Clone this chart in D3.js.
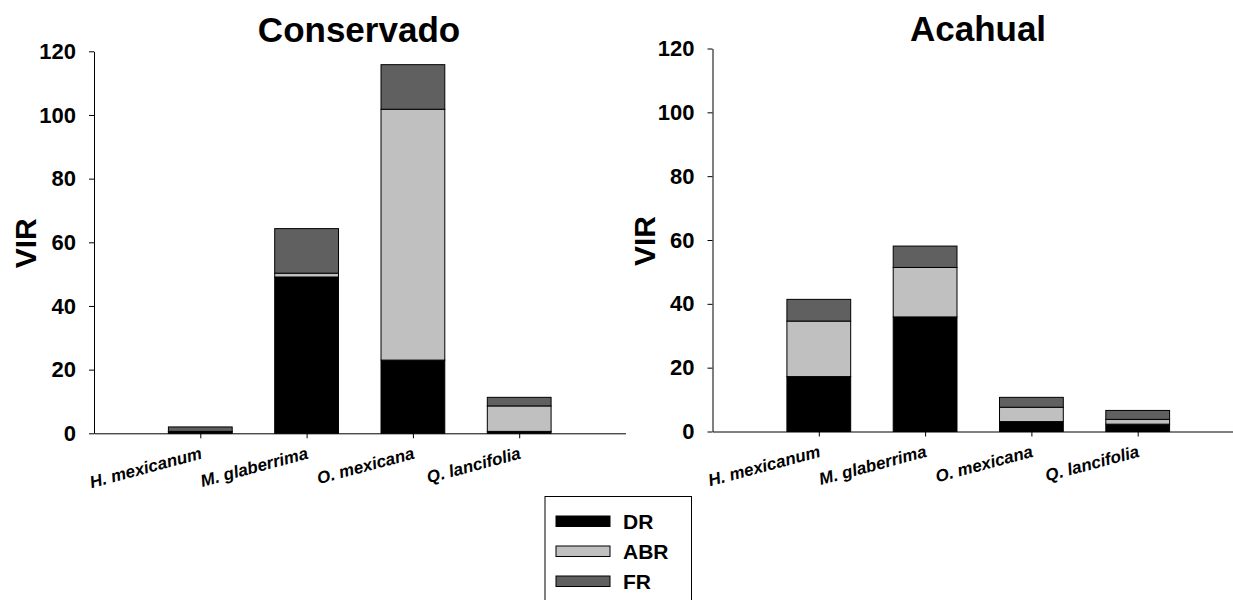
<!DOCTYPE html>
<html>
<head>
<meta charset="utf-8">
<script src="https://cdn.jsdelivr.net/npm/d3@7"></script>
<style>
  body { margin: 0; background: #fff; }
  svg { display: block; }
  text { font-family: "Liberation Sans", Arial, sans-serif; }
</style>
</head>
<body>
<svg id="chart" width="1233" height="600"></svg>
<script>
// ---- data ----
const categories = ["H. mexicanum", "M. glaberrima", "O. mexicana", "Q. lancifolia"];
const seriesNames = ["DR", "ABR", "FR"];
const seriesColors = ["#000000", "#c0c0c0", "#606060"];
const yTicks = [0, 20, 40, 60, 80, 100, 120];

const conservadoDR  = [0.4, 49.1, 23.0, 0.6];
const conservadoABR = [0.2, 1.2, 78.8, 8.0];
const conservadoFR  = [1.4, 14.0, 14.0, 2.7];

const acahualDR  = [17.2, 35.9, 3.1, 2.3];
const acahualABR = [17.4, 15.5, 4.5, 1.5];
const acahualFR  = [6.8, 6.7, 3.1, 2.8];

const panels = [
  { title: "Conservado", series: [conservadoDR, conservadoABR, conservadoFR],
    x0: 94, x1: 625.5, yTop: 51.3, yBot: 433.3, titleX: 359, titleY: 42 },
  { title: "Acahual", series: [acahualDR, acahualABR, acahualFR],
    x0: 712.5, x1: 1244, yTop: 48.5, yBot: 431.5, titleX: 978, titleY: 41 }
];

const svg = d3.select("#chart");

panels.forEach(p => {
  const g = svg.append("g");
  const x = d3.scaleLinear().domain([0, 5]).range([p.x0, p.x1]);
  const y = d3.scaleLinear().domain([0, 120]).range([p.yBot, p.yTop]);
  const barW = x(0.6) - x(0);

  // stacked data
  const rows = categories.map((c, i) => {
    const r = { cat: c, idx: i + 1 };
    seriesNames.forEach((s, k) => r[s] = p.series[k][i]);
    return r;
  });
  const stack = d3.stack().keys(seriesNames)(rows);

  stack.forEach((layer, k) => {
    g.selectAll(null).data(layer).enter().append("rect")
      .attr("x", d => x(d.data.idx) - barW / 2)
      .attr("width", barW)
      .attr("y", d => y(d[1]))
      .attr("height", d => y(d[0]) - y(d[1]))
      .attr("fill", seriesColors[k])
      .attr("stroke", "#000")
      .attr("stroke-width", 1);
  });

  // y axis
  const yAxis = d3.axisLeft(y).tickValues(yTicks).tickSize(5).tickSizeOuter(0).tickPadding(13);
  const ya = g.append("g").attr("transform", `translate(${p.x0},0)`).call(yAxis);
  ya.selectAll("text").attr("font-size", 22).attr("font-weight", "bold")
    .attr("font-family", "Liberation Sans, Arial, sans-serif").attr("fill", "#000");
  ya.selectAll("line,path").attr("stroke", "#000");

  // x axis
  const xAxis = d3.axisBottom(x).tickValues([1, 2, 3, 4]).tickSize(5).tickSizeOuter(0)
    .tickFormat(d => categories[d - 1]);
  const xa = g.append("g").attr("transform", `translate(0,${p.yBot})`).call(xAxis);
  xa.selectAll("line,path").attr("stroke", "#000");
  xa.selectAll("text")
    .attr("font-size", 17).attr("font-weight", "bold").attr("font-style", "italic")
    .attr("font-family", "Liberation Sans, Arial, sans-serif").attr("fill", "#000")
    .attr("text-anchor", "end")
    .attr("y", 0).attr("dy", 0)
    .attr("transform", "translate(2,25) rotate(-15)");

  // y label
  g.append("text")
    .attr("transform", `translate(${p.x0 - 58},${(p.yTop + p.yBot) / 2 + 1}) rotate(-90)`)
    .attr("text-anchor", "middle")
    .attr("font-size", 30).attr("font-weight", "bold")
    .text("VIR");

  // title
  g.append("text")
    .attr("x", p.titleX).attr("y", p.titleY)
    .attr("text-anchor", "middle")
    .attr("font-size", 35).attr("font-weight", "bold")
    .text(p.title);
});

// legend
const lg = svg.append("g");
lg.append("rect").attr("x", 545).attr("y", 496.5).attr("width", 146.5).attr("height", 120)
  .attr("fill", "#fff").attr("stroke", "#000").attr("stroke-width", 1);
seriesNames.forEach((s, k) => {
  const yy = 516 + k * 30;
  lg.append("rect").attr("x", 556).attr("y", yy).attr("width", 54).attr("height", 10.5)
    .attr("fill", seriesColors[k]).attr("stroke", "#000").attr("stroke-width", 1);
  lg.append("text").attr("x", 623).attr("y", yy + 5.5).attr("dy", "0.36em")
    .attr("font-size", 21).attr("font-weight", "bold").text(s);
});
</script>
</body>
</html>
